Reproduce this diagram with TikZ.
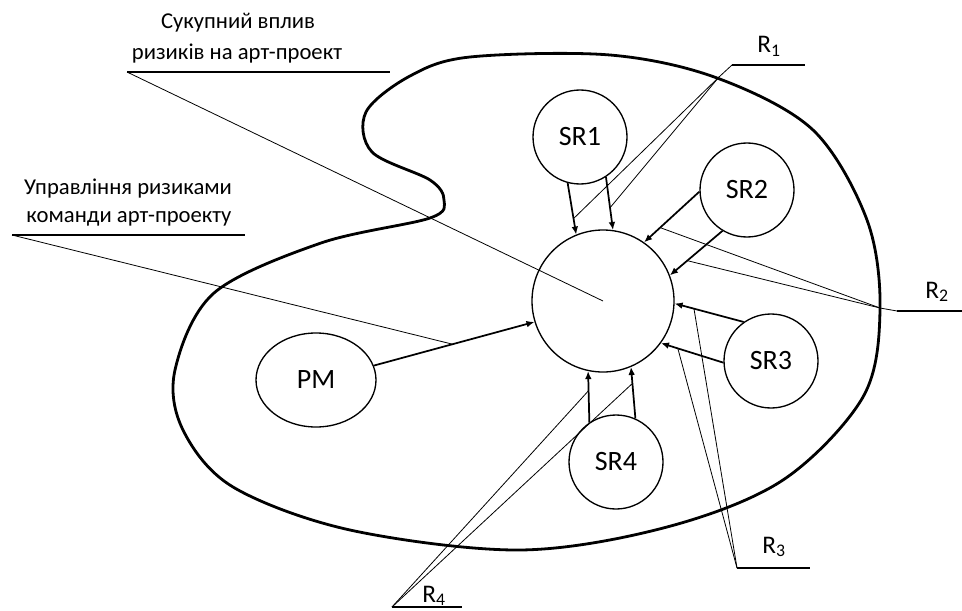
\documentclass[tikz,border=0pt]{standalone}
\usepackage{fontspec}
\setmainfont{Carlito}
\usetikzlibrary{shapes.geometric,arrows.meta,calc}
\begin{document}
\begin{tikzpicture}[x=0.75pt,y=-0.75pt,
  blob/.style={line width=2.1pt,line join=round},
  srnode/.style={circle,draw,line width=1pt,minimum size=70.5pt,inner sep=0pt,font=\fontsize{21}{25}\selectfont},
  centre/.style={circle,draw,line width=1pt,minimum size=106.5pt,inner sep=0pt},
  pmnode/.style={ellipse,draw,line width=1pt,minimum width=90pt,minimum height=70.5pt,inner sep=0pt,font=\fontsize{21}{25}\selectfont},
  arr/.style={line width=1.3pt,-{Latex[length=6pt,width=5pt]}},
  leader/.style={line width=0.6pt},
  uline/.style={line width=1.4pt},
  lbl/.style={font=\fontsize{17}{20}\selectfont,inner sep=0pt,anchor=base},
  rlbl/.style={font=\fontsize{19}{22}\selectfont,inner sep=0pt,anchor=base west}
]
\useasboundingbox (0,0) rectangle (962,610);

% outer blob
\draw[blob] plot[smooth cycle,tension=0.55] coordinates {
 (470,57) (610,55) (717,78) (813,130) (867,220) (880,310) (863,397)
 (783,480) (667,527) (520,550) (350,530) (233,487) (183,430) (175,370)
 (214,293) (321,243) (430,218) (444,200) (430,180) (372,152) (366,112) (410,76)};

% nodes
\node[centre] (C) at (603,301) {};
\node[srnode] (SR1) at (580,137) {SR1};
\node[srnode] (SR2) at (747,190) {SR2};
\node[srnode] (SR3) at (771,361) {SR3};
\node[srnode] (SR4) at (616,462) {SR4};
\node[pmnode] (PM) at (316,380) {PM};

% arrows
\draw[arr] (SR1.255) -- (C.112);
\draw[arr] (SR1.303) -- (C.82);
\draw[arr] (SR2.182) -- (C.55);
\draw[arr] (SR2.239) -- (C.21);
\draw[arr] (SR3.125) -- (C.-2);
\draw[arr] (SR3.182) -- (C.-36);
\draw[arr] (SR4.124) -- (C.-102);
\draw[arr] (SR4.66) -- (C.-67);
\draw[arr] (PM.14) -- (C.-163);

% labels
\node[lbl] (L1a) at (238,29) {Сукупний вплив};
\node[lbl] (L1b) at (237,60) {ризиків на арт-проект};
\coordinate (u1l) at (127,72);
\coordinate (u1r) at (390,72);
\draw[uline] (u1l) -- (u1r);
\draw[leader] (u1l) -- (C.center);

\node[lbl] (L2a) at (128,194) {Управління ризиками};
\node[lbl] (L2b) at (129,222) {команди арт-проекту};
\coordinate (u2l) at (12,235);
\coordinate (u2r) at (245,235);
\draw[uline] (u2l) -- (u2r);
\coordinate (pmhit) at ($(PM.14)!0.49!(C.-163)$);
\draw[leader] (u2l) -- (pmhit);

% R1
\node[rlbl] (R1) at (757,53) {R\textsubscript{1}};
\coordinate (r1l) at (732,65);
\coordinate (r1r) at (805,65);
\coordinate (r1k) at (719,77);
\draw[uline] (r1l) -- (r1r);
\coordinate (t1a) at ($(SR1.255)!0.69!(C.112)$);
\coordinate (t1b) at ($(SR1.303)!0.58!(C.82)$);
\draw[leader] (r1l) -- (r1k) -- (t1a);
\draw[leader] (r1k) -- (t1b);

% R2
\node[rlbl] (R2) at (925,298) {R\textsubscript{2}};
\coordinate (r2l) at (897,311);
\coordinate (r2r) at (962,311);
\coordinate (r2k) at (880,308);
\draw[uline] (r2l) -- (r2r);
\coordinate (t2a) at ($(SR2.182)!0.71!(C.55)$);
\coordinate (t2b) at ($(SR2.239)!0.67!(C.21)$);
\draw[leader] (r2l) -- (r2k) -- (t2a);
\draw[leader] (r2k) -- (t2b);

% R3
\node[rlbl] (R3) at (762,553) {R\textsubscript{3}};
\coordinate (r3l) at (737,568);
\coordinate (r3r) at (810,568);
\draw[uline] (r3l) -- (r3r);
\coordinate (t3a) at ($(SR3.125)!0.72!(C.-2)$);
\coordinate (t3b) at ($(SR3.182)!0.73!(C.-36)$);
\draw[leader] (r3l) -- (t3a);
\draw[leader] (r3l) -- (t3b);

% R4
\node[rlbl] (R4) at (422,602) {R\textsubscript{4}};
\coordinate (r4l) at (392,607);
\coordinate (r4r) at (462,607);
\draw[uline] (r4l) -- (r4r);
\coordinate (t4a) at ($(SR4.124)!0.62!(C.-102)$);
\coordinate (t4b) at ($(SR4.66)!0.68!(C.-67)$);
\draw[leader] (r4l) -- (t4a);
\draw[leader] (r4l) -- (t4b);
\end{tikzpicture}
\end{document}
